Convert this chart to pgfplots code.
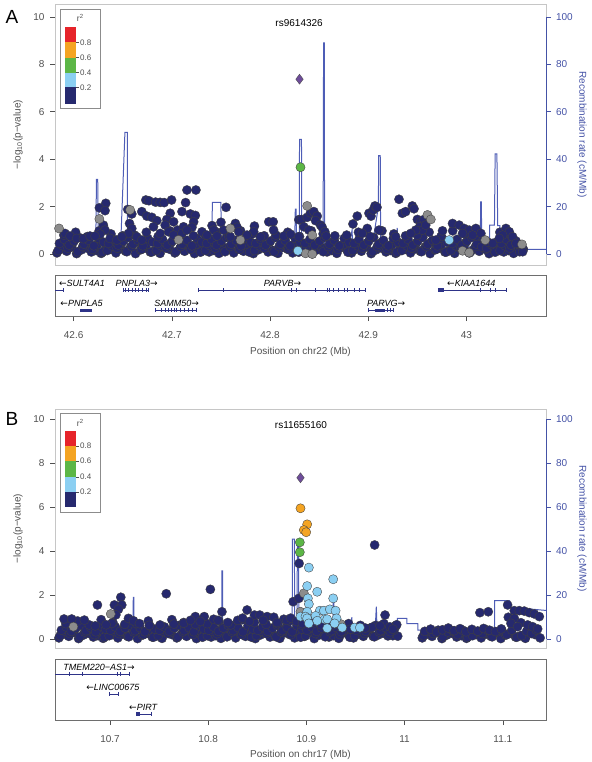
\documentclass[border=0pt]{standalone}
\usepackage{pgfplots}
\pgfplotsset{compat=1.18}
\usepackage{fontspec}
\setmainfont{Liberation Sans}
\newfontfamily\arrowfont{DejaVu Sans}
\definecolor{navy}{HTML}{26296E}
\definecolor{ltblue}{HTML}{8BCFF2}
\definecolor{grn}{HTML}{5CB646}
\definecolor{orng}{HTML}{F4A422}
\definecolor{rd}{HTML}{E6242A}
\definecolor{purp}{HTML}{6E4C9A}
\definecolor{gry}{HTML}{8C8C8C}
\definecolor{recblue}{HTML}{4E5DB6}
\definecolor{raxis}{HTML}{4452A6}
\definecolor{axgray}{HTML}{505050}
\definecolor{boxgray}{HTML}{C6C6C6}
\definecolor{genebox}{HTML}{6E6E6E}
\definecolor{genecol}{HTML}{2E3388}
\tikzset{glab/.style={font=\fontsize{9}{11}\selectfont\itshape}}
\pgfplotsset{
  base/.style={scale only axis, width=491pt, anchor=north west,
    /pgf/number format/assume math mode=true,
    tick align=outside, major tick length=5pt,
    tick label style={font=\fontsize{10}{12}\selectfont},
    label style={font=\fontsize{10}{12}\selectfont}},
  pts/.style={only marks, mark=*, mark size=4.6pt,
    mark options={draw=black!75, line width=0.35pt, fill=#1}},
  exon/.style={genecol, only marks, mark=|, mark size=2pt, mark options={line width=0.6pt}},
  gline/.style={genecol, line width=0.6pt},
  gthick/.style={genecol, line width=3.5pt},
  recax/.style={base, axis x line=none, axis y line*=right,
    y axis line style={draw=none}, ytick={0,20,...,100},
    y tick style={raxis, line width=0.5pt}, yticklabel style={text=raxis, xshift=1.5pt},
    ylabel={Recombination rate (cM/Mb)},
    ylabel style={at={(axis description cs:1.0733,0.5)}, anchor=center, rotate=180, text=raxis}},
  mainax/.style={base, xtick=\empty, ytick={0,2,...,10}, ytick pos=left,
    axis line style={boxgray}, y tick style={axgray, line width=0.5pt},
    yticklabel style={text=axgray, xshift=-2pt},
    ylabel={−log\textsubscript{10}(p−value)},
    ylabel style={at={(axis description cs:-0.0754,0.5)}, anchor=center, text=axgray}},
  geneax/.style={base, ymin=0, ymax=1, ytick=\empty, xtick pos=bottom,
    axis line style={genebox}, x tick style={axgray, line width=0.5pt},
    xticklabel style={text=axgray, yshift=-7pt}},
}
\begin{document}
\begin{tikzpicture}
\useasboundingbox (0,0) rectangle (591pt,-762pt);
% ================= PANEL A =================
\begin{axis}[recax, at={(55pt,-4pt)}, height=261pt, xmin=42.581, xmax=43.081, ymin=-4.6, ymax=105.4]
\addplot[recblue, line width=1pt] coordinates {
(42.581,1.5) (42.600,1.5) (42.6225,2) (42.6232,31.5) (42.6245,31.5) (42.6252,3) (42.640,2.5)
(42.6478,3) (42.6522,51.3) (42.6546,51.3) (42.6548,2) (42.700,1) (42.710,0.5) (42.7408,1)
(42.7412,21.8) (42.7500,21.8) (42.7502,2) (42.800,2) (42.8250,3) (42.8257,19) (42.8265,19)
(42.8270,5) (42.8298,5) (42.8300,48.3) (42.8320,48.3) (42.8322,3) (42.8540,3) (42.8545,89)
(42.8553,89) (42.8555,3) (42.880,3) (42.8835,10) (42.8842,3) (42.900,4) (42.905,6) (42.9103,20)
(42.9106,41.5) (42.9122,41.5) (42.9126,5) (42.9290,3) (42.9295,11) (42.9300,3) (43.0140,3)
(43.0145,22) (43.0152,22) (43.0155,3) (43.0235,3) (43.0237,12.2) (43.0285,12.2) (43.0292,42.2)
(43.0310,42.2) (43.0318,12) (43.0340,12) (43.0345,2) (43.081,2)};
\end{axis}
\begin{axis}[mainax, at={(55pt,-4pt)}, height=261pt, xmin=42.581, xmax=43.081, ymin=-0.46, ymax=10.54]
\addplot[pts=navy] coordinates {
(42.583,0.05) (42.588,0.22) (42.593,0.12) (42.598,0.30) (42.603,0.02) (42.608,0.18) (42.613,0.26) (42.618,0.09)
(42.623,0.15) (42.628,0.03) (42.633,0.28) (42.638,0.20) (42.643,0.05) (42.648,0.22) (42.653,0.12) (42.658,0.30)
(42.663,0.02) (42.668,0.18) (42.673,0.26) (42.678,0.09) (42.683,0.15) (42.688,0.03) (42.693,0.28) (42.698,0.20)
(42.703,0.05) (42.708,0.22) (42.713,0.12) (42.718,0.30) (42.723,0.02) (42.728,0.18) (42.733,0.26) (42.738,0.09)
(42.743,0.15) (42.748,0.03) (42.753,0.28) (42.758,0.20) (42.763,0.05) (42.768,0.22) (42.773,0.12) (42.778,0.30)
(42.783,0.02) (42.788,0.18) (42.793,0.26) (42.798,0.09) (42.803,0.15) (42.808,0.03) (42.813,0.28) (42.818,0.20)
(42.823,0.05) (42.828,0.22) (42.833,0.12) (42.838,0.30) (42.843,0.02) (42.848,0.18) (42.853,0.26) (42.858,0.09)
(42.863,0.15) (42.868,0.03) (42.873,0.28) (42.878,0.20) (42.883,0.05) (42.888,0.22) (42.893,0.12) (42.898,0.30)
(42.903,0.02) (42.908,0.18) (42.913,0.26) (42.918,0.09) (42.923,0.15) (42.928,0.03) (42.933,0.28) (42.938,0.20)
(42.943,0.05) (42.948,0.22) (42.953,0.12) (42.958,0.30) (42.963,0.02) (42.968,0.18) (42.973,0.26) (42.978,0.09)
(42.983,0.15) (42.988,0.03) (42.993,0.28) (42.998,0.20) (43.003,0.05) (43.008,0.22) (43.013,0.12) (43.018,0.30)
(43.023,0.02) (43.028,0.18) (43.033,0.26) (43.038,0.09) (43.043,0.15) (43.048,0.03) (43.053,0.28) (43.058,0.20)};
\addplot[pts=navy] coordinates {
(42.5842,0.15) (42.5892,0.35) (42.5942,0.25) (42.5992,0.48) (42.6042,0.10) (42.6092,0.32) (42.6142,0.52) (42.6192,0.20)
(42.6242,0.40) (42.6292,0.08) (42.6342,0.15) (42.6392,0.35) (42.6442,0.25) (42.6492,0.48) (42.6542,0.10) (42.6592,0.32)
(42.6642,0.52) (42.6692,0.20) (42.6742,0.40) (42.6792,0.08) (42.6842,0.15) (42.6892,0.35) (42.6942,0.25) (42.6992,0.48)
(42.7042,0.10) (42.7092,0.32) (42.7142,0.52) (42.7192,0.20) (42.7242,0.40) (42.7292,0.08) (42.7342,0.15) (42.7392,0.35)
(42.7442,0.25) (42.7492,0.48) (42.7542,0.10) (42.7592,0.32) (42.7642,0.52) (42.7692,0.20) (42.7742,0.40) (42.7792,0.08)
(42.7842,0.15) (42.7892,0.35) (42.7942,0.25) (42.7992,0.48) (42.8042,0.10) (42.8092,0.32) (42.8142,0.52) (42.8192,0.20)
(42.8242,0.40) (42.8292,0.08) (42.8342,0.15) (42.8392,0.35) (42.8442,0.25) (42.8492,0.48) (42.8542,0.10) (42.8592,0.32)
(42.8642,0.52) (42.8692,0.20) (42.8742,0.40) (42.8792,0.08) (42.8842,0.15) (42.8892,0.35) (42.8942,0.25) (42.8992,0.48)
(42.9042,0.10) (42.9092,0.32) (42.9142,0.52) (42.9192,0.20) (42.9242,0.40) (42.9292,0.08) (42.9342,0.15) (42.9392,0.35)
(42.9442,0.25) (42.9492,0.48) (42.9542,0.10) (42.9592,0.32) (42.9642,0.52) (42.9692,0.20) (42.9742,0.40) (42.9792,0.08)
(42.9842,0.15) (42.9892,0.35) (42.9942,0.25) (42.9992,0.48) (43.0042,0.10) (43.0092,0.32) (43.0142,0.52) (43.0192,0.20)
(43.0242,0.40) (43.0292,0.08) (43.0342,0.15) (43.0392,0.35) (43.0442,0.25) (43.0492,0.48) (43.0542,0.10)};
\addplot[pts=navy] coordinates {
(42.5855,0.45) (42.5905,0.62) (42.5955,0.38) (42.6005,0.55) (42.6055,0.70) (42.6105,0.42) (42.6155,0.58) (42.6205,0.35)
(42.6255,0.66) (42.6305,0.50) (42.6355,0.45) (42.6405,0.62) (42.6455,0.38) (42.6505,0.55) (42.6555,0.70) (42.6605,0.42)
(42.6655,0.58) (42.6705,0.35) (42.6755,0.66) (42.6805,0.50) (42.6855,0.45) (42.6905,0.62) (42.6955,0.38) (42.7005,0.55)
(42.7055,0.70) (42.7105,0.42) (42.7155,0.58) (42.7205,0.35) (42.7255,0.66) (42.7305,0.50) (42.7355,0.45) (42.7405,0.62)
(42.7455,0.38) (42.7505,0.55) (42.7555,0.70) (42.7605,0.42) (42.7655,0.58) (42.7705,0.35) (42.7755,0.66) (42.7805,0.50)
(42.7855,0.45) (42.7905,0.62) (42.7955,0.38) (42.8005,0.55) (42.8055,0.70) (42.8105,0.42) (42.8155,0.58) (42.8205,0.35)
(42.8255,0.66) (42.8305,0.50) (42.8355,0.45) (42.8405,0.62) (42.8455,0.38) (42.8505,0.55) (42.8555,0.70) (42.8605,0.42)
(42.8655,0.58) (42.8705,0.35) (42.8755,0.66) (42.8805,0.50) (42.8855,0.45) (42.8905,0.62) (42.8955,0.38) (42.9005,0.55)
(42.9055,0.70) (42.9105,0.42) (42.9155,0.58) (42.9205,0.35) (42.9255,0.66) (42.9305,0.50) (42.9355,0.45) (42.9405,0.62)
(42.9455,0.38) (42.9505,0.55) (42.9555,0.70) (42.9605,0.42) (42.9655,0.58) (42.9705,0.35) (42.9755,0.66) (42.9805,0.50)
(42.9855,0.45) (42.9905,0.62) (42.9955,0.38) (43.0005,0.55) (43.0055,0.70) (43.0105,0.42) (43.0155,0.30) (43.0205,0.25)
(43.0255,0.40) (43.0305,0.50) (43.0355,0.45) (43.0405,0.62) (43.0455,0.38) (43.0505,0.55) (43.0555,0.35)};
\addplot[pts=navy] coordinates {
(42.590,0.80) (42.602,0.92) (42.614,0.74) (42.626,0.98) (42.638,0.85) (42.650,0.77) (42.662,0.80) (42.674,0.92)
(42.686,0.74) (42.698,0.98) (42.710,0.85) (42.722,0.77) (42.734,0.80) (42.746,0.92) (42.758,0.74) (42.770,0.98)
(42.782,0.85) (42.794,0.77) (42.806,0.80) (42.818,0.92) (42.830,0.74) (42.842,0.98) (42.854,0.85) (42.866,0.77)
(42.878,0.80) (42.890,0.92) (42.902,0.74) (42.914,0.98) (42.926,0.85) (42.938,0.77) (42.950,0.80) (42.962,0.92)
(42.974,0.74) (42.986,0.98) (42.998,0.85) (43.010,0.77) (43.022,0.50) (43.034,0.92) (43.046,0.74)};
\addplot[pts=navy] coordinates {
(42.7154,2.70) (42.7245,2.70) (42.6735,2.28) (42.6766,2.25) (42.6834,2.19) (42.6881,2.18) (42.6922,2.17) (42.6997,2.28)
(42.7140,2.17) (42.6327,2.14) (42.6262,1.95) (42.6320,1.83) (42.7552,1.97) (42.6551,1.88) (42.6592,1.69) (42.6694,1.79)
(42.6745,1.60) (42.6796,1.55) (42.6847,1.41) (42.6813,1.15) (42.7103,1.79) (42.7188,1.69) (42.7239,1.63) (42.7222,1.36)
(42.7205,1.13) (42.6983,1.72) (42.6949,1.46) (42.6932,1.22) (42.7018,1.36) (42.7058,1.01) (42.7119,1.15) (42.7987,1.36)
(42.8032,1.36) (42.7500,1.34) (42.7528,1.01) (42.7647,1.29) (42.7664,1.13) (42.7681,0.94) (42.7841,1.18) (42.7834,0.94)
(42.8036,1.01) (42.7409,1.20) (42.7426,1.01) (42.6303,1.22) (42.6320,1.01) (42.6269,0.84) (42.6569,1.29) (42.6592,1.08)
(42.6558,0.87) (42.5912,0.87) (42.5963,0.76) (42.6031,0.66) (42.6099,0.65) (42.6167,0.76) (42.6218,0.76) (42.6371,0.66)
(42.6439,0.59) (42.6490,0.73) (42.6643,0.73) (42.6694,0.59) (42.6881,0.87) (42.6966,0.94) (42.7018,0.80) (42.7103,0.87)
(42.7154,1.01) (42.7307,0.94) (42.7358,0.80) (42.7460,0.76) (42.7596,0.73) (42.7766,0.80) (42.7902,0.73) (42.8140,0.76)
(42.8208,0.84) (42.8293,1.45) (42.8320,1.46) (42.8378,1.55) (42.8412,1.74) (42.8446,1.79) (42.8480,1.60) (42.8463,1.41)
(42.8514,1.22) (42.8531,1.13) (42.8558,0.94) (42.8572,0.76) (42.8344,1.15) (42.8395,1.01) (42.8293,0.73) (42.8844,1.27)
(42.8888,1.60) (42.9007,1.72) (42.9028,1.60) (42.9051,1.86) (42.9068,2.03) (42.9089,1.97) (42.8990,1.08) (42.8939,0.87)
(42.9109,1.01) (42.9313,2.31) (42.9347,1.72) (42.9381,1.79) (42.9449,2.03) (42.9466,1.91) (42.9500,1.46) (42.9534,1.36)
(42.9568,1.46) (42.9524,1.15) (42.9551,1.01) (42.9585,1.22) (42.9483,1.01) (42.9432,0.87) (42.9279,0.73) (42.9756,0.98)
(42.9858,1.29) (42.9926,1.22) (42.9977,1.08) (43.0028,1.01) (43.0096,1.08) (43.0147,0.87) (42.9960,0.87) (43.0062,0.80)
(43.0402,1.08) (43.0436,0.94) (43.0470,0.73) (43.0368,0.80) (43.0334,0.66) (43.0504,0.45) (43.0572,0.24) (43.0572,0.10)
(42.9688,0.59) (43.0266,0.45)};
\addplot[pts=gry] coordinates {
(42.5851,1.08) (42.6262,1.48) (42.6575,1.86) (42.7698,0.59) (42.7596,1.08) (42.8378,2.03) (42.8430,0.80) (42.9603,1.65)
(42.9637,1.46) (42.8361,0.03) (42.8430,0.00) (42.9960,0.14) (43.0028,0.06) (43.0191,0.59) (43.0565,0.41) (42.7068,0.60)};
\addplot[pts=ltblue] coordinates {(42.8283,0.14) (42.9824,0.59)};
\addplot[pts=grn] coordinates {(42.8310,3.66)};
\addplot[only marks, mark=diamond*, mark size=5pt, mark options={fill=purp, draw=black!70, line width=0.35pt}] coordinates {(42.8300,7.37)};
\node[font=\fontsize{10}{12}\selectfont] at (axis cs:42.8296,9.75) {rs9614326};
\end{axis}
% gene track A
\begin{axis}[geneax, at={(55pt,-275.5pt)}, height=40.5pt, xmin=42.581, xmax=43.081,
  xtick={42.6,42.7,42.8,42.9,43}, xticklabels={42.6,42.7,42.8,42.9,43},
  xlabel={Position on chr22 (Mb)},
  xlabel style={at={(axis description cs:0.5,0)}, anchor=center, yshift=-36pt, text=axgray}]
\addplot[gline] coordinates {(42.581,0.64) (42.5898,0.64)};
\addplot[exon] coordinates {(42.5898,0.64)};
\addplot[gline] coordinates {(42.6505,0.64) (42.6761,0.64)};
\addplot[exon] coordinates {(42.6505,0.64) (42.6530,0.64) (42.6560,0.64) (42.6600,0.64) (42.6630,0.64) (42.6660,0.64) (42.6700,0.64) (42.6740,0.64) (42.6761,0.64)};
\addplot[gline] coordinates {(42.7266,0.64) (42.8971,0.64)};
\addplot[exon] coordinates {(42.7266,0.64) (42.7522,0.64) (42.8213,0.64) (42.8270,0.64) (42.8463,0.64) (42.8582,0.64) (42.8600,0.64) (42.8645,0.64) (42.8698,0.64) (42.8758,0.64) (42.8786,0.64) (42.8856,0.64) (42.8908,0.64) (42.8971,0.64)};
\addplot[gline] coordinates {(42.9708,0.64) (43.0407,0.64)};
\addplot[gthick] coordinates {(42.9708,0.64) (42.9768,0.64)};
\addplot[exon] coordinates {(43.0136,0.64) (43.0241,0.64) (43.0294,0.64) (43.0407,0.64)};
\addplot[gthick] coordinates {(42.6066,0.14) (42.6189,0.14)};
\addplot[gline] coordinates {(42.6828,0.14) (42.7252,0.14)};
\addplot[exon] coordinates {(42.6828,0.14) (42.6891,0.14) (42.6933,0.14) (42.6961,0.14) (42.6996,0.14) (42.7024,0.14) (42.7049,0.14) (42.7091,0.14) (42.7126,0.14) (42.7172,0.14) (42.7207,0.14) (42.7252,0.14)};
\addplot[gline] coordinates {(42.9003,0.14) (42.9252,0.14)};
\addplot[exon] coordinates {(42.9003,0.14) (42.9252,0.14) (42.9190,0.14) (42.9220,0.14)};
\addplot[gthick] coordinates {(42.9066,0.14) (42.9172,0.14)};
\node[glab, anchor=west] at (axis cs:42.5815,0.805) {{\arrowfont ←}SULT4A1};
\node[glab] at (axis cs:42.6642,0.805) {PNPLA3{\arrowfont →}};
\node[glab] at (axis cs:42.8126,0.805) {PARVB{\arrowfont →}};
\node[glab] at (axis cs:43.0049,0.805) {{\arrowfont ←}KIAA1644};
\node[glab] at (axis cs:42.6080,0.31) {{\arrowfont ←}PNPLA5};
\node[glab] at (axis cs:42.7049,0.31) {SAMM50{\arrowfont →}};
\node[glab] at (axis cs:42.9182,0.31) {PARVG{\arrowfont →}};
\end{axis}
% ================= PANEL B =================
\begin{axis}[recax, at={(55pt,-409pt)}, height=239pt, xmin=10.644, xmax=11.144, ymin=-4.1, ymax=104.7]
\addplot[recblue, line width=1pt] coordinates {
(10.644,0.3) (10.650,0.3) (10.655,1) (10.670,1.5) (10.690,2) (10.7235,2) (10.7237,19) (10.7243,19) (10.7245,2)
(10.7322,2) (10.7325,8) (10.7330,2) (10.780,2.5) (10.8138,2.5) (10.8140,31) (10.8146,31) (10.8148,3) (10.8600,3)
(10.8855,3) (10.8858,45.5) (10.8878,45.5) (10.8880,10) (10.8905,10) (10.8908,43.5) (10.8920,43.5) (10.8923,6)
(10.9100,6) (10.9270,6) (10.9273,17) (10.9280,17) (10.9283,5) (10.9460,4) (10.9462,10) (10.9466,4) (10.9700,4)
(10.9712,14.7) (10.9720,4) (10.9925,4) (10.9927,9.4) (11.0022,9.4) (11.0024,7) (11.0134,7) (11.0136,4) (11.0915,4)
(11.0918,17.5) (11.1070,17.5) (11.1073,14.5) (11.144,13)};
\end{axis}
\begin{axis}[mainax, at={(55pt,-409pt)}, height=239pt, xmin=10.644, xmax=11.144, ymin=-0.41, ymax=10.47]
\addplot[pts=navy] coordinates {
(10.648,0.05) (10.653,0.22) (10.658,0.12) (10.663,0.30) (10.668,0.02) (10.673,0.18) (10.678,0.26) (10.683,0.09)
(10.688,0.15) (10.693,0.03) (10.698,0.28) (10.703,0.20) (10.708,0.05) (10.713,0.22) (10.718,0.12) (10.723,0.30)
(10.728,0.02) (10.733,0.18) (10.738,0.26) (10.743,0.09) (10.748,0.15) (10.753,0.03) (10.758,0.28) (10.763,0.20)
(10.768,0.05) (10.773,0.22) (10.778,0.12) (10.783,0.30) (10.788,0.02) (10.793,0.18) (10.798,0.26) (10.803,0.09)
(10.808,0.15) (10.813,0.03) (10.818,0.28) (10.823,0.20) (10.828,0.05) (10.833,0.22) (10.838,0.12) (10.843,0.30)
(10.848,0.02) (10.853,0.18) (10.858,0.26) (10.863,0.09) (10.868,0.15) (10.873,0.03) (10.878,0.28) (10.883,0.20)
(10.888,0.05) (10.893,0.22) (10.898,0.12) (10.903,0.30) (10.908,0.02) (10.913,0.18) (10.918,0.26) (10.923,0.09)
(10.928,0.15) (10.933,0.03) (10.938,0.28) (10.943,0.20) (10.948,0.05) (10.953,0.22) (10.958,0.12) (10.963,0.30)
(10.968,0.12) (10.973,0.18) (10.978,0.26) (10.983,0.14) (10.988,0.15) (10.993,0.13)
(11.018,0.05) (11.023,0.22) (11.028,0.12) (11.033,0.30) (11.038,0.02) (11.043,0.18) (11.048,0.26) (11.053,0.09)
(11.058,0.15) (11.063,0.03) (11.068,0.28) (11.073,0.20) (11.078,0.05) (11.083,0.22) (11.088,0.12) (11.093,0.30)
(11.098,0.02) (11.103,0.18) (11.108,0.26) (11.113,0.09) (11.118,0.15) (11.123,0.03) (11.128,0.28) (11.133,0.20)
(11.138,0.05)};
\addplot[pts=navy] coordinates {
(10.6492,0.15) (10.6542,0.35) (10.6592,0.25) (10.6642,0.48) (10.6692,0.10) (10.6742,0.32) (10.6792,0.52) (10.6842,0.20)
(10.6892,0.40) (10.6942,0.08) (10.6992,0.15) (10.7042,0.35) (10.7092,0.25) (10.7142,0.48) (10.7192,0.10) (10.7242,0.32)
(10.7292,0.52) (10.7342,0.20) (10.7392,0.40) (10.7442,0.08) (10.7492,0.15) (10.7542,0.35) (10.7592,0.25) (10.7642,0.48)
(10.7692,0.10) (10.7742,0.32) (10.7792,0.52) (10.7842,0.20) (10.7892,0.40) (10.7942,0.08) (10.7992,0.15) (10.8042,0.35)
(10.8092,0.25) (10.8142,0.48) (10.8192,0.10) (10.8242,0.32) (10.8292,0.52) (10.8342,0.20) (10.8392,0.40) (10.8442,0.08)
(10.8492,0.15) (10.8542,0.35) (10.8592,0.25) (10.8642,0.48) (10.8692,0.10) (10.8742,0.32) (10.8792,0.52) (10.8842,0.20)
(10.8892,0.40) (10.8942,0.08) (10.8992,0.15) (10.9042,0.35) (10.9092,0.25) (10.9142,0.48) (10.9192,0.10) (10.9242,0.32)
(10.9292,0.52) (10.9342,0.20) (10.9392,0.40) (10.9442,0.08) (10.9492,0.15) (10.9542,0.35) (10.9592,0.25) (10.9642,0.48)
(10.9692,0.10) (10.9742,0.32) (10.9792,0.52) (10.9842,0.20) (10.9892,0.40)
(11.0192,0.15) (11.0242,0.35) (11.0292,0.25) (11.0342,0.40) (11.0392,0.10) (11.0442,0.32) (11.0492,0.38) (11.0542,0.20)
(11.0592,0.40) (11.0642,0.08) (11.0692,0.15) (11.0742,0.35) (11.0792,0.25) (11.0842,0.40) (11.0892,0.10) (11.0942,0.32)
(11.0992,0.38) (11.1042,0.20) (11.1092,0.40) (11.1142,0.08) (11.1192,0.15) (11.1242,0.35) (11.1292,0.25) (11.1342,0.40)};
\addplot[pts=navy] coordinates {
(10.6505,0.40) (10.6555,0.55) (10.6605,0.35) (10.6655,0.50) (10.6705,0.62) (10.6755,0.38) (10.6805,0.52) (10.6855,0.33)
(10.6905,0.60) (10.6955,0.45) (10.7005,0.40) (10.7055,0.55) (10.7105,0.35) (10.7155,0.50) (10.7205,0.62) (10.7255,0.38)
(10.7305,0.52) (10.7355,0.33) (10.7405,0.60) (10.7455,0.45) (10.7505,0.40) (10.7555,0.55) (10.7605,0.35) (10.7655,0.50)
(10.7705,0.62) (10.7755,0.38) (10.7805,0.52) (10.7855,0.33) (10.7905,0.60) (10.7955,0.45) (10.8005,0.40) (10.8055,0.55)
(10.8105,0.35) (10.8155,0.50) (10.8205,0.62) (10.8255,0.38) (10.8305,0.52) (10.8355,0.33) (10.8405,0.60) (10.8455,0.45)
(10.8505,0.40) (10.8555,0.55) (10.8605,0.35) (10.8655,0.50) (10.8705,0.62) (10.8755,0.38) (10.8805,0.52) (10.8855,0.33)
(10.8905,0.60) (10.8955,0.45) (10.9005,0.40) (10.9055,0.55) (10.9105,0.35) (10.9155,0.50) (10.9205,0.62) (10.9255,0.38)
(10.9305,0.52) (10.9355,0.33) (10.9405,0.60) (10.9455,0.45) (10.9505,0.40) (10.9555,0.55) (10.9605,0.35) (10.9655,0.50)
(10.9705,0.62) (10.9755,0.38) (10.9805,0.52) (10.9855,0.33) (10.9905,0.60)
(11.0205,0.35) (11.0265,0.45) (11.0325,0.32) (11.0385,0.42) (11.0445,0.50) (11.0505,0.38) (11.0565,0.47) (11.0625,0.33)
(11.0685,0.44) (11.0745,0.36) (11.0805,0.48) (11.0865,0.40) (11.0925,0.34) (11.0985,0.46)};
\addplot[pts=navy] coordinates {
(10.655,0.70) (10.667,0.82) (10.679,0.64) (10.691,0.88) (10.703,0.75) (10.715,0.67) (10.727,0.70) (10.739,0.82)
(10.751,0.64) (10.763,0.88) (10.775,0.75) (10.787,0.67) (10.799,0.70) (10.811,0.82) (10.823,0.64) (10.835,0.88)
(10.847,0.75) (10.859,0.67) (10.871,0.70) (10.883,0.82) (10.895,0.64) (10.907,0.88) (10.919,0.75) (10.931,0.67)
(10.943,0.70) (10.955,0.62) (10.967,0.54) (10.979,0.70) (10.991,0.58)};
\addplot[pts=navy] coordinates {
(10.6532,0.91) (10.6610,0.91) (10.6739,0.86) (10.6872,1.55) (10.7045,1.55) (10.7110,1.90) (10.7120,1.55) (10.7086,1.35)
(10.7060,1.10) (10.7188,0.94) (10.7239,0.83) (10.7573,2.06) (10.7869,1.02) (10.7960,1.02) (10.8022,2.26) (10.8056,0.90)
(10.8140,1.24) (10.8396,1.32) (10.8471,1.09) (10.8525,1.09) (10.8600,1.02) (10.8668,0.99) (10.8770,0.90) (10.8865,1.70)
(10.8923,1.85) (10.9695,4.28) (10.9801,1.09) (11.0767,1.20) (11.0852,1.24) (11.1049,1.55) (11.1056,0.99)
(11.1117,1.29) (11.1168,1.29) (11.1219,1.27) (11.1270,1.20) (11.1321,1.14) (11.1372,1.02) (11.1117,0.94) (11.1185,0.74)
(11.1253,0.64) (11.1304,0.56) (11.1355,0.46) (11.1083,0.71) (11.1151,0.56)
(10.7018,0.71) (10.6960,0.65) (10.6850,0.60) (10.7300,0.70) (10.7400,0.62) (10.7650,0.68) (10.7750,0.72) (10.7820,0.85)
(10.7920,0.80) (10.8100,0.85) (10.8200,0.75) (10.8300,0.85) (10.8350,0.95) (10.8420,0.80) (10.8560,0.85) (10.8700,0.75)
(10.8800,0.85) (10.8840,0.95) (10.8900,0.80) (10.8960,0.70) (10.9050,0.75) (10.9150,0.65) (10.9250,0.60) (10.9350,0.55)
(10.9450,0.45) (10.9600,0.50) (10.9750,0.60) (10.9850,0.55) (10.9920,0.65) (10.9880,0.45)
(10.8926,3.44)};
\addplot[pts=gry] coordinates {(10.6627,0.56) (10.7008,1.14) (10.8974,2.08) (10.8940,1.24) (10.9350,0.68)};
\addplot[pts=ltblue] coordinates {
(10.9025,3.25) (10.9273,2.72) (10.9008,2.41) (10.9110,2.15) (10.9273,1.85) (10.9015,1.85) (10.9025,1.59) (10.9008,1.24)
(10.8940,1.02) (10.8991,1.02) (10.9137,1.29) (10.9178,1.29) (10.9239,1.35) (10.9297,1.29) (10.9185,0.90) (10.9212,0.90)
(10.9307,0.94) (10.9093,1.05) (10.9110,0.83) (10.9212,0.49) (10.9287,0.71) (10.9365,0.52) (10.9491,0.52) (10.9545,0.52)
(10.9008,0.94) (10.9025,0.71)};
\addplot[pts=grn] coordinates {(10.8933,4.40) (10.8933,3.95)};
\addplot[pts=orng] coordinates {(10.8940,5.95) (10.9008,5.22) (10.8974,4.96) (10.8998,4.86)};
\addplot[only marks, mark=diamond*, mark size=5pt, mark options={fill=purp, draw=black!70, line width=0.35pt}] coordinates {(10.8940,7.34)};
\node[font=\fontsize{10}{12}\selectfont] at (axis cs:10.8945,9.74) {rs11655160};
\end{axis}
% gene track B
\begin{axis}[geneax, at={(55pt,-659.5pt)}, height=60.5pt, xmin=10.644, xmax=11.144,
  xtick={10.7,10.8,10.9,11,11.1}, xticklabels={10.7,10.8,10.9,11,11.1},
  xlabel={Position on chr17 (Mb)},
  xlabel style={at={(axis description cs:0.5,0)}, anchor=center, yshift=-34.5pt, text=axgray}]
\addplot[gline] coordinates {(10.644,0.763) (10.7198,0.763)};
\addplot[exon] coordinates {(10.6584,0.763) (10.6714,0.763) (10.7072,0.763) (10.7107,0.763) (10.7198,0.763)};
\addplot[gline] coordinates {(10.6994,0.424) (10.7089,0.424)};
\addplot[exon] coordinates {(10.6994,0.424) (10.7089,0.424)};
\addplot[gline] coordinates {(10.7268,0.10) (10.7422,0.10)};
\addplot[gthick] coordinates {(10.7268,0.10) (10.7303,0.10)};
\addplot[exon] coordinates {(10.7422,0.10)};
\node[glab, anchor=west] at (axis cs:10.6490,0.876) {TMEM220−AS1{\arrowfont →}};
\node[glab] at (axis cs:10.7030,0.537) {{\arrowfont ←}LINC00675};
\node[glab] at (axis cs:10.7338,0.21) {{\arrowfont ←}PIRT};
\end{axis}
% right axis lines (recombination scale 0 to 100)
\draw[raxis, line width=0.6pt] (546pt,-16.8pt) -- (546pt,-254.1pt);
\draw[raxis, line width=0.6pt] (546pt,-419.3pt) -- (546pt,-639.0pt);
% legends
\begin{scope}[x=1pt, y=-1pt]
\node[font=\fontsize{19}{22}\selectfont] at (12,17) {A};
\node[font=\fontsize{19}{22}\selectfont] at (12,418.5) {B};
\draw[gry, line width=0.6pt, fill=white] (60,9.3) rectangle (100.7,108);
\fill[rd] (65,26.7) rectangle (75.5,42.3);
\fill[orng] (65,42.3) rectangle (75.5,57.7);
\fill[grn] (65,57.7) rectangle (75.5,72.7);
\fill[ltblue] (65,72.7) rectangle (75.5,87.3);
\fill[navy] (65,87.3) rectangle (75.5,104);
\foreach \yy/\lab in {42.3/0.8, 57.7/0.6, 72.7/0.4, 87.3/0.2} {
  \draw[axgray, line width=0.4pt] (75.5,\yy) -- (79,\yy);
  \node[anchor=west, inner sep=0.5pt, font=\fontsize{8}{9}\selectfont, text=axgray] at (79.5,\yy) {\lab};}
\node[font=\fontsize{8.5}{10}\selectfont, text=axgray] at (80.3,18.3) {r\textsuperscript{2}};
\draw[gry, line width=0.6pt, fill=white] (60,413.3) rectangle (100.7,512);
\fill[rd] (65,430.7) rectangle (75.5,446);
\fill[orng] (65,446) rectangle (75.5,461);
\fill[grn] (65,461) rectangle (75.5,476.7);
\fill[ltblue] (65,476.7) rectangle (75.5,491.7);
\fill[navy] (65,491.7) rectangle (75.5,506.7);
\foreach \yy/\lab in {446/0.8, 461/0.6, 476.7/0.4, 491.7/0.2} {
  \draw[axgray, line width=0.4pt] (75.5,\yy) -- (79,\yy);
  \node[anchor=west, inner sep=0.5pt, font=\fontsize{8}{9}\selectfont, text=axgray] at (79.5,\yy) {\lab};}
\node[font=\fontsize{8.5}{10}\selectfont, text=axgray] at (80.3,423.3) {r\textsuperscript{2}};
\end{scope}
\end{tikzpicture}
\end{document}
